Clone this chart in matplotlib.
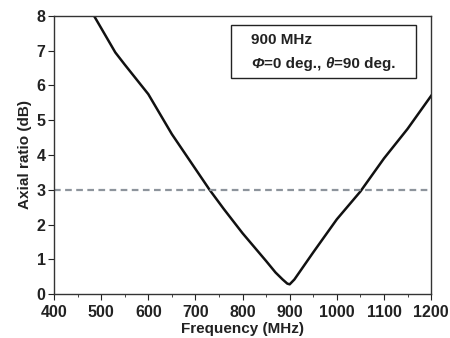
import numpy as np
import matplotlib.pyplot as plt
from matplotlib.ticker import MultipleLocator
from matplotlib.offsetbox import TextArea, HPacker, AnnotationBbox

plt.rcParams["font.family"] = ["Liberation Sans", "DejaVu Sans"]
plt.rcParams["font.weight"] = "bold"

freq = [485, 500, 530, 550, 600, 650, 700, 730, 760, 800, 850, 870, 885, 895, 900,
        910, 950, 1000, 1050, 1100, 1150, 1200]
axial_ratio = [8.0, 7.65, 6.95, 6.6, 5.75, 4.6, 3.6, 3.0, 2.45, 1.75, 0.95, 0.62,
               0.42, 0.3, 0.28, 0.42, 1.2, 2.15, 2.95, 3.9, 4.75, 5.7]
threshold = 3.0

fig = plt.figure(figsize=(4.5, 3.38), dpi=100)
ax = fig.add_axes([0.12, 0.13, 0.838, 0.823])
ax.plot(freq, axial_ratio, color="#111111", lw=1.8)
ax.axhline(threshold, color="#8d949c", lw=1.6, ls=(0, (3, 2)))

ax.set_xlim(400, 1200)
ax.set_ylim(0, 8)
ax.xaxis.set_major_locator(MultipleLocator(100))
ax.xaxis.set_minor_locator(MultipleLocator(50))
ax.yaxis.set_major_locator(MultipleLocator(1))
ax.tick_params(which="both", direction="out", labelsize=11.5, colors="#222222")
ax.tick_params(which="major", length=4, pad=2)
ax.tick_params(axis="x", which="major", pad=4)
ax.tick_params(which="minor", length=2)
for s in ax.spines.values():
    s.set_color("#333333")
    s.set_linewidth(1.0)
ax.set_xlabel("Frequency (MHz)", fontsize=11, fontweight="bold", labelpad=1, color="#222222")
ax.set_ylabel("Axial ratio (dB)", fontsize=11, fontweight="bold", labelpad=3, color="#222222")

ax.text(0.523, 0.912, "900 MHz", transform=ax.transAxes, fontsize=11, fontweight="bold",
        va="center", ha="left", color="#222222")

tp = dict(fontsize=11, fontweight="bold", color="#222222")
tpi = dict(tp, style="italic")
parts = [TextArea("Φ", textprops=tpi), TextArea("=0 deg., ", textprops=tp),
         TextArea("θ", textprops=tpi), TextArea("=90 deg.", textprops=tp)]
line2 = HPacker(children=parts, sep=0, pad=0, align="baseline")
ab = AnnotationBbox(line2, (0.523, 0.826), xycoords="axes fraction",
                    box_alignment=(0, 0.5), frameon=False, pad=0)
ax.add_artist(ab)

ax.add_patch(plt.Rectangle((0.470, 0.777), 0.49, 0.191, transform=ax.transAxes,
                           fill=False, edgecolor="#222222", lw=1.0))

fig.savefig("out.png", dpi=100)
